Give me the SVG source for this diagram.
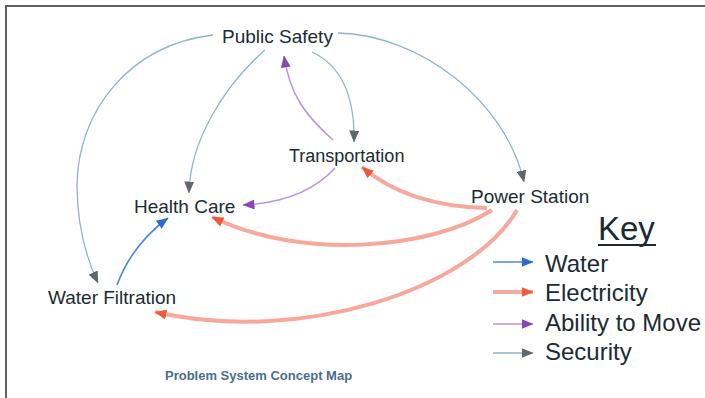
<svg xmlns="http://www.w3.org/2000/svg" width="705" height="398" viewBox="0 0 705 398">
  <style>
    .lbl { font-family: "Liberation Sans", Arial, sans-serif; font-size: 19px; fill: #1c2b33; }
    .key { font-family: "Liberation Sans", Arial, sans-serif; font-size: 24px; fill: #1c2b33; }
    .cap { font-family: "Liberation Sans", Arial, sans-serif; font-size: 13px; font-weight: bold; fill: #4a6f8a; }
    .sec { fill: none; stroke: #8fb5c6; stroke-width: 1.3; marker-end: url(#mSec); }
    .move { fill: none; stroke: #b895dc; stroke-width: 1.6; marker-end: url(#mMove); }
    .water { fill: none; stroke: #4a88dc; stroke-width: 1.6; marker-end: url(#mWater); }
    .elec { fill: none; stroke: #f6a89c; stroke-width: 4; marker-end: url(#mElec); }
  </style>
  <defs>
    <marker id="mSec" viewBox="0 0 12 10" markerWidth="12" markerHeight="10" refX="11.5" refY="5" orient="auto" markerUnits="userSpaceOnUse">
      <path d="M0,0 L12,5 L0,10 z" fill="#5e686c"/>
    </marker>
    <marker id="mMove" viewBox="0 0 12 10" markerWidth="12" markerHeight="10" refX="11.5" refY="5" orient="auto" markerUnits="userSpaceOnUse">
      <path d="M0,0 L12,5 L0,10 z" fill="#8b45b5"/>
    </marker>
    <marker id="mWater" viewBox="0 0 12 10" markerWidth="12" markerHeight="10" refX="11.5" refY="5" orient="auto" markerUnits="userSpaceOnUse">
      <path d="M0,0 L12,5 L0,10 z" fill="#2f6ccc"/>
    </marker>
    <marker id="mElec" viewBox="0 0 12 10" markerWidth="12" markerHeight="10" refX="11.5" refY="5" orient="auto" markerUnits="userSpaceOnUse">
      <path d="M0,0 L12,5 L0,10 z" fill="#ee5a3c"/>
    </marker>
  </defs>
  <rect x="0" y="0" width="705" height="398" fill="#ffffff"/>
  <rect x="6" y="6" width="740" height="420" fill="none" stroke="#606060" stroke-width="2"/>

  <g id="connectors">
    <path class="sec" d="M213,35 C130,45 78,110 77,185 C77,225 85,255 98,283"/>
    <path class="sec" d="M265,50 C225,85 190,140 189,193"/>
    <path class="sec" d="M312,52 C340,65 355,95 354,142"/>
    <path class="sec" d="M338,33 C420,35 505,100 524,182"/>
    <path class="move" d="M333,140 C305,115 290,95 284,56"/>
    <path class="move" d="M335,168 C315,190 285,203 243,205"/>
    <path class="water" d="M117,285 C127,258 145,235 168,218"/>
    <path class="elec" d="M487,208 C440,207 395,195 362,167"/>
    <path class="elec" d="M492,210 C430,250 300,260 212,217"/>
    <path class="elec" d="M517,210 C470,290 300,345 155,312"/>
  </g>

  <g id="node-public-safety"><text class="lbl" x="222" y="43">Public Safety</text></g>
  <g id="node-transportation"><text class="lbl" x="289" y="162" style="font-size:18px">Transportation</text></g>
  <g id="node-power-station"><text class="lbl" x="471" y="203">Power Station</text></g>
  <g id="node-health-care"><text class="lbl" x="134" y="213">Health Care</text></g>
  <g id="node-water-filtration"><text class="lbl" x="48" y="304">Water Filtration</text></g>

  <g id="legend">
    <text class="key" x="598" y="240" style="font-size:33px">Key</text>
    <line x1="598" y1="245" x2="656" y2="245" stroke="#1c2b33" stroke-width="2"/>
    <line class="water" x1="493" y1="262" x2="533" y2="262"/>
    <text class="key" x="545" y="272">Water</text>
    <line class="elec" x1="493" y1="292" x2="533" y2="292"/>
    <text class="key" x="545" y="301">Electricity</text>
    <line class="move" x1="493" y1="324" x2="533" y2="324"/>
    <text class="key" x="545" y="331">Ability to Move</text>
    <line class="sec" x1="493" y1="353" x2="533" y2="353"/>
    <text class="key" x="545" y="360">Security</text>
  </g>

  <g id="caption"><text class="cap" x="165" y="380">Problem System Concept Map</text></g>
</svg>
